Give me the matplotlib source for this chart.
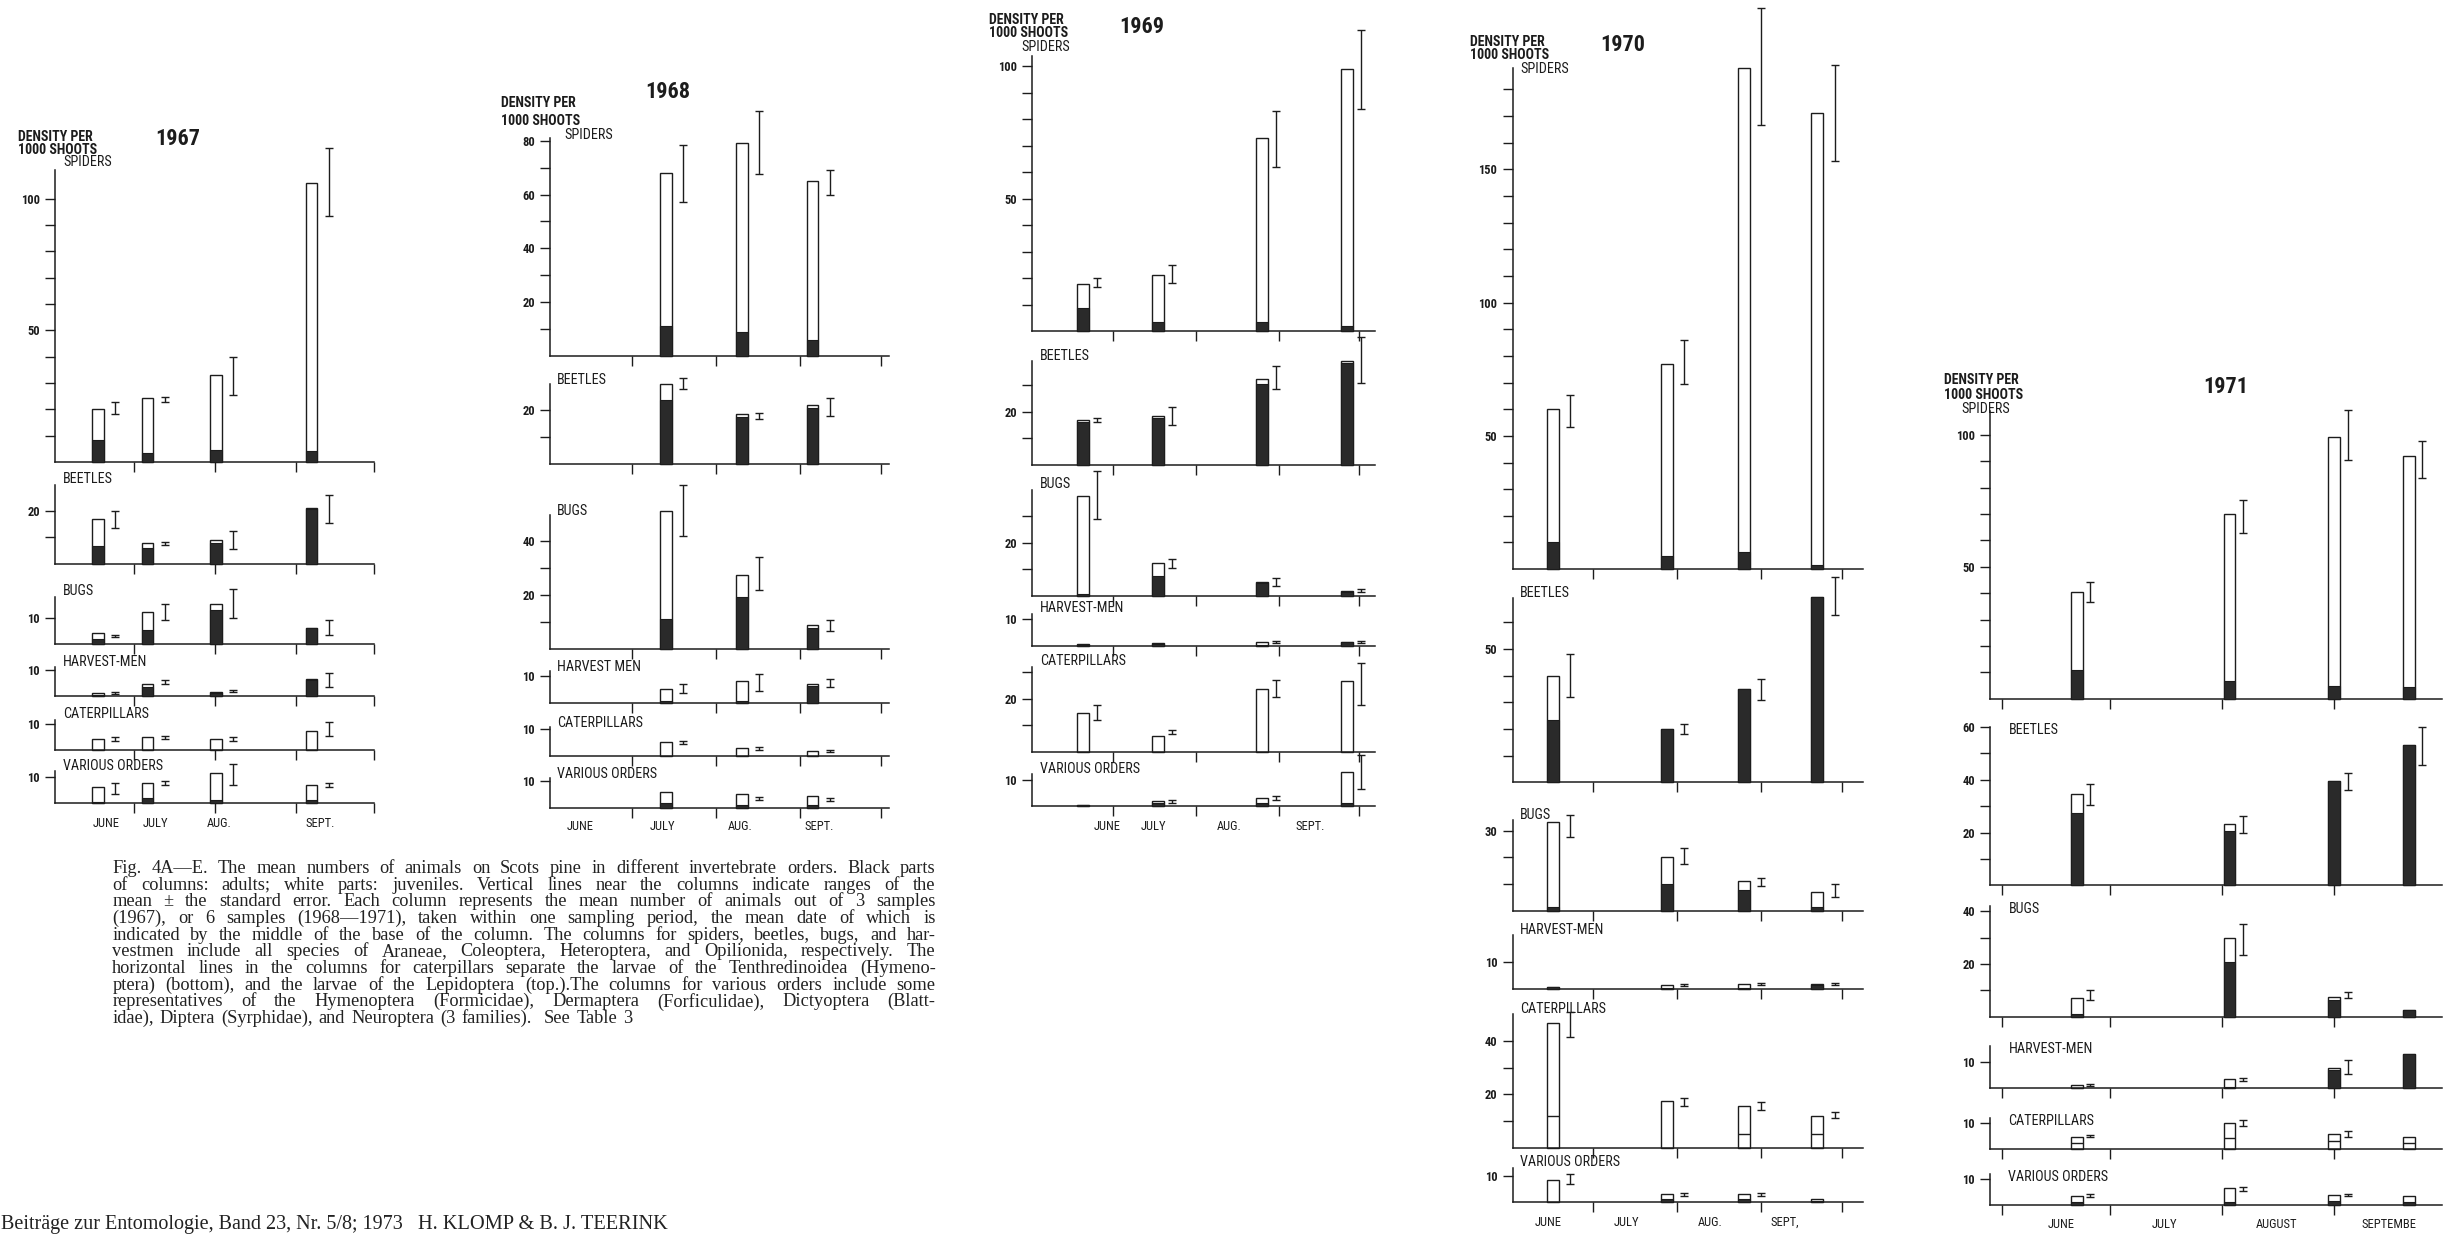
import matplotlib
matplotlib.use("Agg")
import matplotlib.pyplot as plt
from matplotlib import font_manager as fm

# ---------------- DATA (densities per 1000 shoots) ----------------
GROUPS_1967 = ["SPIDERS", "BEETLES", "BUGS", "HARVEST-MEN", "CATERPILLARS", "VARIOUS ORDERS"]
GROUPS_1968 = ["SPIDERS", "BEETLES", "BUGS", "HARVEST MEN", "CATERPILLARS", "VARIOUS ORDERS"]
GROUPS_STD = ["SPIDERS", "BEETLES", "BUGS", "HARVEST-MEN", "CATERPILLARS", "VARIOUS ORDERS"]

MONTHS_STD = ["JUNE", "JULY", "AUG.", "SEPT."]
MONTHS_1970 = ["JUNE", "JULY", "AUG.", "SEPT,"]
MONTHS_1971 = ["JUNE", "JULY", "AUGUST", "SEPTEMBE"]

# sampling dates, days after 1 June
DAYS_1967 = [16.4, 35.3, 61.5, 98.0]
TOTAL_1967 = [[20, 24.2, 33, 106], [17, 7.7, 8.9, 21], [4.2, 12, 15, 6],
              [1.2, 4.8, 1.8, 6.5], [4.2, 4.8, 4.2, 7.1], [6, 7.7, 11.3, 7]]
ADULT_1967 = [[8.3, 3.4, 4.5, 4], [6.8, 6, 7.7, 20.8], [1.8, 5.4, 13, 6],
              [0.5, 3.6, 1.2, 6], [0, 0, 0, 0], [0.5, 1.8, 1.2, 1.2]]
LO_1967 = [[18.2, 22.7, 25.4, 93.5], [13.7, 7, 5.4, 15.5], [2.5, 9, 10, 3.6],
           [1, 4.8, 1.5, 3.6], [3.5, 4.2, 3.6, 5.4], [3.6, 7, 7, 6]]
HI_1967 = [[22.7, 24.6, 39.8, 119], [20, 8.3, 12.5, 26], [3.6, 15, 21, 9],
           [1.8, 6, 2.2, 9], [5, 5.4, 4.8, 10.7], [7.7, 8.3, 15, 7.7]]
SEP_1967 = [0, 0, 0, 0]

DAYS_1968 = [42.5, 70.7, 96.6]
TOTAL_1968 = [[68, 79.4, 65], [29.8, 18.6, 21.9], [51.5, 27.6, 8.8],
              [5.3, 8.2, 7.0], [5.3, 3.0, 1.8], [6.0, 5.3, 4.2]]
ADULT_1968 = [[11, 8.8, 5.8], [23.8, 17.4, 21], [11, 19.4, 7.6],
              [1.0, 1.0, 6.5], [0, 0, 0], [1.8, 1.2, 1.0]]
LO_1968 = [[57.4, 67.8, 60], [28, 16.8, 18], [42, 22, 6.5],
           [4, 4.7, 6], [4.5, 2.5, 1.5], [None, 3, 2.5]]
HI_1968 = [[78.6, 91, 69], [32, 19.2, 24.5], [61, 34, 10.6],
           [7, 11, 9], [5.8, 3.5, 2.2], [None, 4, 3.5]]
SEP_1968 = [0, 0, 0]

DAYS_1969 = [18.9, 47.0, 85.8, 117.4]
TOTAL_1969 = [[18, 21.4, 73, 98.8], [16.8, 18.3, 32.3, 39], [37.6, 12.4, 5.3, 1.8],
              [0.5, 0.8, 1.2, 1.2], [14.7, 5.9, 23.5, 26.5], [0.6, 1.8, 3, 13]]
ADULT_1969 = [[8.7, 3.7, 3.7, 2.2], [16, 17.6, 30.4, 38.3], [0.5, 7.6, 4.7, 1.2],
              [0.3, 0.5, 0.3, 1.2], [0, 0, 0, 0], [0.6, 1.2, 1.2, 1.2]]
LO_1969 = [[16.6, 18.4, 62, 84], [16.2, 15, 28.5, 30.8], [28.8, 10.6, 3.5, 1.2],
           [None, None, 0.8, 0.8], [11.8, 6.5, 20.6, 17.6], [None, 1.2, 2.4, 6.5]]
HI_1969 = [[20.3, 24.9, 83, 113.5], [17.7, 21.8, 37.2, 48.2], [47, 14, 6.5, 2.4],
           [None, None, 1.6, 1.6], [17.6, 8.2, 27, 33.5], [None, 2.4, 4, 19.4]]
SEP_1969 = [0, 0, 0, 0]

DAYS_1970 = [15.0, 57.2, 85.9, 113.0]
TOTAL_1970 = [[60, 77, 188, 171], [40, 19.9, 34.9, 69.4], [33.3, 20, 11, 7],
              [0.6, 1.2, 1.8, 1.8], [46.8, 17.5, 15.8, 11.7], [8.2, 3, 3, 1.2]]
ADULT_1970 = [[10.3, 5, 6.4, 1.5], [23.3, 19.9, 34.9, 69.4], [1.2, 10, 7.6, 1.2],
              [0.6, 0.3, 0.3, 1.5], [0, 0, 0, 0], [0, 1.2, 1.2, 0.6]]
LO_1970 = [[53.5, 69.4, 166.5, 153], [32, 18, 30.8, 62.7], [27.5, 17.5, 9.4, 5.3],
           [None, 1.0, 1.4, 1.4], [41.5, 15.8, 14, 11], [7, 2.4, 2.4, None]]
HI_1970 = [[65.3, 86, 210.6, 189], [48, 22, 38.6, 77], [35.7, 23.4, 12.3, 10],
           [None, 1.6, 2.2, 2.2], [51, 18.7, 17, 13.5], [10.5, 3.5, 3.5, None]]
SEP_1970 = [11.7, 0, 5.3, 5.3]

DAYS_1971 = [20.9, 63.0, 92.0, 112.7]
TOTAL_1971 = [[40.4, 70, 99.4, 92.2], [34.5, 23.3, 39.6, 53.3], [7, 30, 7.6, 2.4],
              [1.2, 3.5, 7.6, 13], [4.7, 10, 5.9, 4.7], [3.5, 6.5, 4.1, 3.5]]
ADULT_1971 = [[10.8, 6.6, 4.7, 4.4], [27.5, 20.4, 39.6, 53.3], [1.2, 20.6, 6.5, 2.4],
              [0.3, 0.6, 7, 13], [0, 0, 0, 0], [1.2, 1.2, 1.8, 1.2]]
LO_1971 = [[36.6, 63, 90.4, 83.8], [30.4, 19.8, 36.3, 45.7], [6.5, 23.5, 7, None],
           [1, 3, 5.3, None], [4.5, 9, 4.7, None], [3, 5.5, 3.5, None]]
HI_1971 = [[44.3, 75.4, 109.6, 97.6], [38.6, 26.3, 42.7, 60], [10, 35, 9.4, None],
           [1.8, 4, 10.6, None], [5.5, 11, 7, None], [4.5, 7, 4.5, None]]
SEP_1971 = [2.4, 4.1, 3, 2.4]

CAPTION_LINES = [
    "Fig. 4A\u2014E. The mean numbers of animals on Scots pine in different invertebrate orders. Black parts",
    "of columns: adults; white parts: juveniles. Vertical lines near the columns indicate ranges of the",
    "mean \u00b1 the standard error. Each column represents the mean number of animals out of 3 samples",
    "(1967), or 6 samples (1968\u20141971), taken within one sampling period, the mean date of which is",
    "indicated by the middle of the base of the column. The columns for spiders, beetles, bugs, and har-",
    "vestmen include all species of Araneae, Coleoptera, Heteroptera, and Opilionida, respectively. The",
    "horizontal lines in the columns for caterpillars separate the larvae of the Tenthredinoidea (Hymeno-",
    "ptera) (bottom), and the larvae of the Lepidoptera (top.).The columns for various orders include some",
    "representatives of the Hymenoptera (Formicidae), Dermaptera (Forficulidae), Dictyoptera (Blatt-",
    "idae), Diptera (Syrphidae), and Neuroptera (3 families).  See Table 3",
]
FOOTER_LEFT = "Beitr\u00e4ge zur Entomologie, Band 23, Nr. 5/8; 1973"
FOOTER_RIGHT = "H. KLOMP & B. J. TEERINK"

# ---------------- LAYOUT (reference px, 1568 x 792 grid) ----------------
DW, DH = 1568.0, 792.0
SC = 2445.0 / DW
INK = "#1c1c1c"
DARK = "#2a2a2a"
BAR_PX = 7.6

PANELS = [
    dict(year="1967", groups=GROUPS_1967, months=MONTHS_STD, mpos=[19, 37.6, 61, 98.7], my=528,
         days=DAYS_1967, total=TOTAL_1967, adult=ADULT_1967, lo=LO_1967, hi=HI_1967, sep=SEP_1967,
         d0=35.3, ppd=1.72, xs=35.3, xe=240, k=1.69, eoff=11.5, mticks=[30, 61, 92, 122],
         ldx=5, ldy=-3.5, dens=(11.7, 88, 96), spid=(40.6, 104), yr=(99.4, 89),
         subs=[(296.3, 111, list(range(10, 101, 10)), [50, 100]),
               (361.5, 30, [10, 20], [20]),
               (413, 18, [10], [10]),
               (446.5, 11, [10], [10]),
               (481, 11.5, [10], [10]),
               (515, 12, [10], [10])]),
    dict(year="1968", groups=GROUPS_1968, months=MONTHS_STD, mpos=[10.9, 41.4, 70, 98.9], my=530,
         days=DAYS_1968, total=TOTAL_1968, adult=ADULT_1968, lo=LO_1968, hi=HI_1968, sep=SEP_1968,
         d0=353, ppd=1.74, xs=353, xe=570, k=1.72, eoff=11, mticks=[30, 61, 92, 122],
         ldx=4, ldy=-2.5, dens=(321, 66, 77.6), spid=(362, 86.5), yr=(413.7, 59),
         subs=[(228, 81, list(range(10, 81, 10)), [20, 40, 60, 80]),
               (297.6, 30, [10, 20], [20]),
               (416, 50, [10, 20, 30, 40], [20, 40]),
               (451, 12, [10], [10]),
               (485, 11, [10], [10]),
               (518, 11, [10], [10])]),
    dict(year="1969", groups=GROUPS_STD, months=MONTHS_STD, mpos=[27.9, 45.3, 73.3, 103.5], my=530,
         days=DAYS_1969, total=TOTAL_1969, adult=ADULT_1969, lo=LO_1969, hi=HI_1969, sep=SEP_1969,
         d0=662, ppd=1.72, xs=662, xe=882, k=1.70, eoff=9, mticks=[30, 61, 92, 122],
         ldx=5, ldy=-3.5, dens=(634, 13, 21), spid=(655, 30), yr=(718, 17),
         subs=[(212.5, 104, list(range(10, 101, 10)), [50, 100]),
               (298, 39, [10, 20, 30], [20]),
               (382, 40, [10, 20, 30], [20]),
               (414, 12, [10], [10]),
               (482, 32, [10, 20, 30], [20]),
               (517, 12, [10], [10])]),
    dict(year="1970", groups=GROUPS_STD, months=MONTHS_1970, mpos=[13.3, 42.2, 73.4, 101], my=784,
         days=DAYS_1970, total=TOTAL_1970, adult=ADULT_1970, lo=LO_1970, hi=HI_1970, sep=SEP_1970,
         d0=970, ppd=1.73, xs=970, xe=1195, k=1.71, eoff=11, mticks=[30, 61, 92, 122],
         ldx=5, ldy=-3.5, dens=(943, 27, 35), spid=(975, 44), yr=(1026, 29),
         subs=[(365, 188, list(range(10, 181, 10)), [50, 100, 150]),
               (501.6, 69, list(range(10, 61, 10)), [50]),
               (584, 34, [10, 20, 30], [30]),
               (634, 20, [10], [10]),
               (736, 50, [10, 20, 30, 40], [20, 40]),
               (771, 13, [10], [10])]),
    dict(year="1971", groups=GROUPS_STD, months=MONTHS_1971, mpos=[16.5, 45, 76, 107], my=785,
         days=DAYS_1971, total=TOTAL_1971, adult=ADULT_1971, lo=LO_1971, hi=HI_1971, sep=SEP_1971,
         d0=1283.6, ppd=2.32, xs=1276.5, xe=1566, k=1.69, eoff=8.5, mticks=[0, 30, 61, 92],
         ldx=11.5, ldy=2.0, dens=(1247, 244, 253), spid=(1258, 262), yr=(1413, 248),
         subs=[(448, 109, list(range(10, 101, 10)), [50, 100]),
               (567.7, 60, list(range(10, 61, 10)), [20, 40, 60]),
               (652, 42, [10, 20, 30, 40], [20, 40]),
               (698, 16, [10], [10]),
               (737, 12, [10], [10]),
               (773, 12, [10], [10])]),
]

# ---------------- FONTS ----------------
_names = {f.name for f in fm.fontManager.ttflist}


def pick(*cands):
    for c in cands:
        if c in _names:
            return c
    return "DejaVu Sans"


SANS = pick("Liberation Sans Narrow", "Roboto Condensed", "Liberation Sans", "DejaVu Sans")
SERIF = pick("Liberation Serif", "DejaVu Serif")

fig = plt.figure(figsize=(24.45, 12.35), dpi=100)
fig.patch.set_facecolor("white")
renderer = fig.canvas.get_renderer()


def fit_size(s, target_px, family, weight="normal", style="normal"):
    t = fig.text(0, 0, s, fontsize=10, family=family, weight=weight, style=style)
    w = t.get_window_extent(renderer=renderer).width
    t.remove()
    return 10.0 * target_px / w


FS_LABEL = fit_size("BEETLES", 50, SANS)
FS_TICK = fit_size("100", 19, SANS, "bold")
FS_DENS = fit_size("DENSITY PER", 75, SANS, "bold")
FS_YEAR = fit_size("1967", 45, SANS, "bold")
FS_MONTH = fit_size("JUNE", 27, SANS)


def fx(x):
    return x / DW


def fy(y):
    return 1.0 - y / DH


for P in PANELS:
    k, d0, ppd, xs, xe = P["k"], P["d0"], P["ppd"], P["xs"], P["xe"]
    xlim = ((xs - d0) / ppd, (xe - d0) / ppd)
    w = BAR_PX / ppd
    eo = P["eoff"] / ppd
    for gi, (base, ymax, ticks, labs) in enumerate(P["subs"]):
        top = base - ymax * k
        ax = fig.add_axes([fx(xs), fy(base), (xe - xs) / DW, ymax * k / DH])
        ax.set_facecolor("none")
        ax.set_xlim(*xlim)
        ax.set_ylim(0, ymax)
        for s in ("top", "right"):
            ax.spines[s].set_visible(False)
        for s in ("left", "bottom"):
            ax.spines[s].set_linewidth(1.1)
            ax.spines[s].set_color(INK)
        ax.set_yticks(ticks)
        ax.set_yticklabels([str(t) if t in labs else "" for t in ticks])
        ax.set_xticks(P["mticks"])
        ax.set_xticklabels([])
        ax.tick_params(direction="out", length=7, width=1.0, color=INK, pad=4)
        for lab in ax.get_yticklabels():
            lab.set_fontfamily(SANS)
            lab.set_fontweight("bold")
            lab.set_fontsize(FS_TICK)
            lab.set_color(INK)

        days = P["days"]
        tot = P["total"][gi]
        adu = P["adult"][gi]
        ax.bar(days, tot, width=w, color="white", edgecolor=INK, linewidth=1.0,
               zorder=2, clip_on=False)
        ad_x = [d for d, a in zip(days, adu) if a > 0]
        ad_h = [a for a in adu if a > 0]
        if ad_x:
            ax.bar(ad_x, ad_h, width=w, color=DARK, edgecolor=INK, linewidth=0.8,
                   zorder=3, clip_on=False)
        if P["groups"][gi] == "CATERPILLARS":
            for d, sv in zip(days, P["sep"]):
                if sv > 0:
                    ax.hlines(sv, d - w / 2, d + w / 2, color=INK, linewidth=1.0, zorder=4)
        for d, lo, hi in zip(days, P["lo"][gi], P["hi"][gi]):
            if lo is None:
                continue
            xe_ = d + eo
            ax.vlines(xe_, lo, hi, color=INK, linewidth=1.0, zorder=4, clip_on=False)
            ax.plot([xe_, xe_], [lo, hi], linestyle="none", marker="_", ms=6,
                    mew=1.0, color=INK, zorder=4, clip_on=False)

        # group label
        if gi == 0:
            sx, sy = P["spid"]
            fig.text(fx(sx), fy(sy), P["groups"][0], ha="left", va="center",
                     fontsize=FS_LABEL, family=SANS, color=INK)
        else:
            fig.text(fx(xs + P["ldx"]), fy(top + P["ldy"]), P["groups"][gi],
                     ha="left", va="center", fontsize=FS_LABEL, family=SANS, color=INK)

    # month labels
    for m, pos in zip(P["months"], P["mpos"]):
        fig.text(fx(d0 + pos * ppd), fy(P["my"]), m, ha="center", va="center",
                 fontsize=FS_MONTH, family=SANS, color=INK)

    # density header and year
    dx, dy1, dy2 = P["dens"]
    fig.text(fx(dx), fy(dy1), "DENSITY PER", ha="left", va="center",
             fontsize=FS_DENS, family=SANS, weight="bold", color=INK)
    fig.text(fx(dx), fy(dy2), "1000 SHOOTS", ha="left", va="center",
             fontsize=FS_DENS, family=SANS, weight="bold", color=INK)
    yx, yy = P["yr"]
    fig.text(fx(yx), fy(yy), P["year"], ha="left", va="center",
             fontsize=FS_YEAR, family=SANS, weight="bold", color=INK)

# ---------------- CAPTION (justified) ----------------
CAP_X = 72 * SC
CAP_W = (600 - 72) * SC
CAP_Y0 = 557 * SC
CAP_DY = 10.67 * SC
FW, FH = 2445.0, 1235.0

fs_cap = fit_size(CAPTION_LINES[0], CAP_W * 0.9, SERIF)


def wwidth(s):
    t = fig.text(0, 0, s, fontsize=fs_cap, family=SERIF)
    wv = t.get_window_extent(renderer=renderer).width
    t.remove()
    return wv


space_w = wwidth("x x") - wwidth("xx")
for li, line in enumerate(CAPTION_LINES):
    words = line.split(" ")
    widths = [wwidth(wd) if wd else 0.0 for wd in words]
    y = CAP_Y0 + li * CAP_DY
    if li < len(CAPTION_LINES) - 1 and len(words) > 1:
        gap = (CAP_W - sum(widths)) / (len(words) - 1)
    else:
        gap = space_w * 1.3
    x = CAP_X
    for wd, wv in zip(words, widths):
        if wd:
            fig.text(x / FW, 1 - y / FH, wd, ha="left", va="center",
                     fontsize=fs_cap, family=SERIF, color="#222222")
        x += wv + gap

# footer
fs_fl = fit_size(FOOTER_LEFT, 258 * SC, SERIF)
fig.text(1 / FW, 1 - 785 * SC / FH, FOOTER_LEFT, ha="left", va="center",
         fontsize=fs_fl, family=SERIF, color="#222222")
fs_fr = fit_size(FOOTER_RIGHT, 160 * SC, SERIF)
fig.text(268 * SC / FW, 1 - 785 * SC / FH, FOOTER_RIGHT, ha="left", va="center",
         fontsize=fs_fr, family=SERIF, color="#222222")

fig.savefig("out.png", dpi=100, facecolor="white")
